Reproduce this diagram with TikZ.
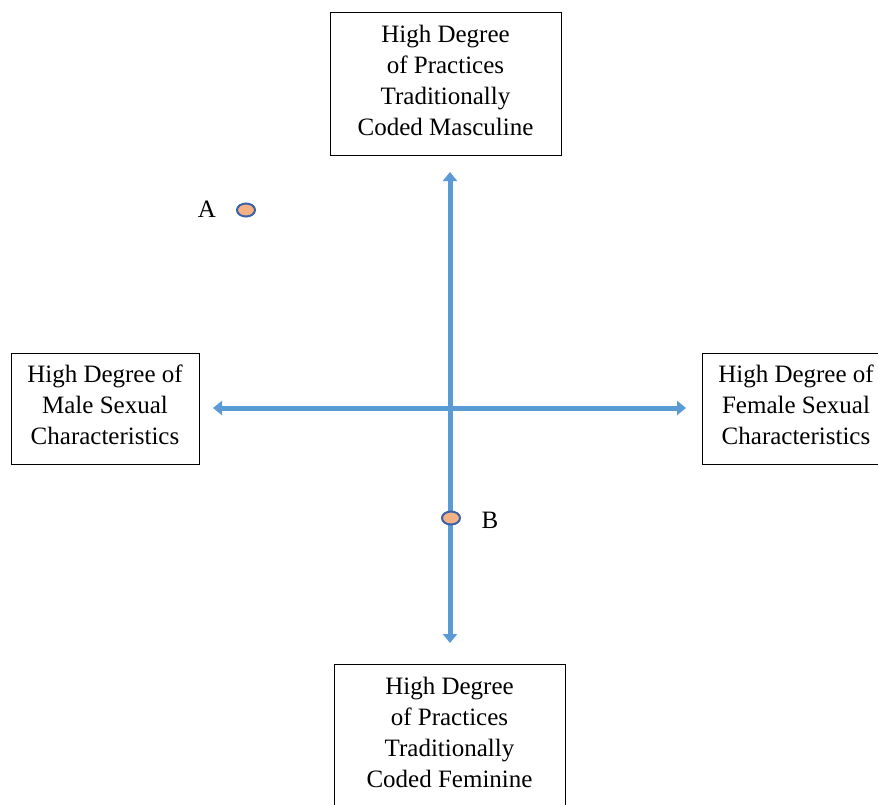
\documentclass[tikz,border=0pt]{standalone}
\usepackage{fontspec}
\setmainfont{Liberation Serif}
\usetikzlibrary{arrows.meta,shapes.geometric}
\definecolor{axisblue}{HTML}{5B9BD5}
\definecolor{dotfill}{HTML}{F4B183}
\definecolor{dotedge}{HTML}{3A62A8}
\tikzset{
  labelbox/.style={draw=black, line width=1pt, inner sep=0pt},
  boxtext/.style={align=center, inner sep=0pt, yshift=3.5pt,
    font=\fontsize{25}{31}\selectfont},
  axis/.style={draw=axisblue, line width=5pt,
    {Triangle[width=14pt,length=9pt]}-{Triangle[width=14pt,length=9pt]}},
  dot/.style={draw=dotedge, fill=dotfill, line width=2pt, ellipse, minimum width=18pt, minimum height=13pt, inner sep=0pt},
  dotlabel/.style={font=\fontsize{25}{31}\selectfont, inner sep=0pt}
}
\begin{document}
\begin{tikzpicture}[x=1pt,y=-1pt]
\useasboundingbox (0,0) rectangle (878,804);
\node[labelbox, minimum width=231pt, minimum height=143pt] (top) at (445.5,83.5) {};
\node[boxtext] (toptext) at (top.center)
  {High Degree\\of Practices\\Traditionally\\Coded Masculine};
\node[labelbox, minimum width=188pt, minimum height=111pt] (left) at (105,408.5) {};
\node[boxtext] (lefttext) at (left.center)
  {High Degree of\\Male Sexual\\Characteristics};
\node[labelbox, minimum width=188pt, minimum height=111pt] (right) at (796,408.5) {};
\node[boxtext] (righttext) at (right.center)
  {High Degree of\\Female Sexual\\Characteristics};
\node[labelbox, minimum width=231pt, minimum height=143pt] (bottom) at (449.5,735.5) {};
\node[boxtext] (bottomtext) at (bottom.center)
  {High Degree\\of Practices\\Traditionally\\Coded Feminine};
\coordinate (vtop) at (450,172);
\coordinate (vbot) at (450,643);
\coordinate (hleft) at (213,408);
\coordinate (hright) at (686,408);
\draw[axis] (vbot) -- (vtop);
\draw[axis] (hleft) -- (hright);
\node[dot] (dotA) at (246,210) {};
\node[dotlabel] (labA) at (207,209) {A};
\node[dot] (dotB) at (451,518) {};
\node[dotlabel] (labB) at (490,520) {B};
\end{tikzpicture}
\end{document}
